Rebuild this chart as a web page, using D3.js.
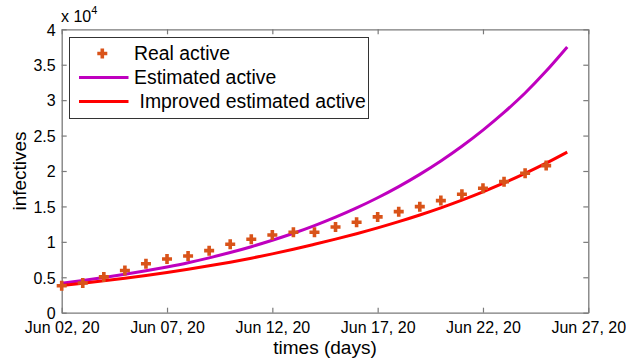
<!DOCTYPE html>
<html>
<head>
<meta charset="utf-8">
<script src="https://cdn.jsdelivr.net/npm/d3@7/dist/d3.min.js"></script>
<style>
  html, body { margin: 0; padding: 0; background: #fff; }
  svg { display: block; font-family: Arial, "Liberation Sans", sans-serif; }
</style>
</head>
<body>
<svg id="chart" width="626" height="362"></svg>
<script>
// Daily series starting 2 June 2020
const startDate = new Date(2020, 5, 2);
const endDate = new Date(2020, 5, 27);

// Reported active cases (one value per day, Jun 02 .. Jun 25)
const realActive = [3800, 4200, 5050, 5950, 6900, 7580, 8000, 8760, 9660, 10370,
  10970, 11360, 11360, 12100, 12770, 13520, 14260, 14970, 15820, 16720,
  17570, 18500, 19690, 20760];

// Model estimate (one value per day, Jun 02 .. Jun 26)
const estimatedActive = [4150, 4534, 4954, 5413, 5914, 6462, 7060, 7744, 8494, 9317,
  10220, 11210, 12296, 13488, 14795, 16229, 17801, 19526, 21418, 23494,
  25771, 28268, 31007, 34100, 37500];

// Improved model estimate (one value per day, Jun 02 .. Jun 26)
const improvedActive = [3850, 4160, 4496, 4858, 5250, 5673, 6130, 6612, 7133, 7694,
  8300, 8953, 9658, 10387, 11150, 11970, 12850, 13790, 14800, 15890,
  17060, 18310, 19660, 21100, 22660];

const yTicks = [0, 5000, 10000, 15000, 20000, 25000, 30000, 35000, 40000];
const legendLabels = ["Real active", "Estimated active", "Improved estimated active"];

const colors = { real: "#D95319", est: "#BF00BF", imp: "#FF0000", axis: "#7a7a7a" };

const svg = d3.select("#chart");
const L = 61.7, R = 588.3, T = 29.3, B = 312.7;

const x = d3.scaleTime().domain([startDate, endDate]).range([L, R]);
const y = d3.scaleLinear().domain([0, 40000]).range([B, T]);
const day = i => d3.timeDay.offset(startDate, i);

const xTickVals = d3.timeDay.range(startDate, d3.timeDay.offset(endDate, 1), 5);
const fmtDate = d3.timeFormat("%b %d, %y");
const fmtY = v => d3.format("~g")(v / 1e4);

// Axes: bottom/left with labels, top/right ticks only, ticks pointing inward
const axisG = svg.append("g");
const axBottom = axisG.append("g").attr("transform", `translate(0,${B})`)
  .call(d3.axisBottom(x).tickValues(xTickVals).tickFormat(fmtDate).tickSizeInner(-5).tickSizeOuter(0));
axisG.append("g").attr("transform", `translate(0,${T})`)
  .call(d3.axisTop(x).tickValues(xTickVals).tickFormat("").tickSizeInner(-5).tickSizeOuter(0));
const axLeft = axisG.append("g").attr("transform", `translate(${L},0)`)
  .call(d3.axisLeft(y).tickValues(yTicks).tickFormat(fmtY).tickSizeInner(-5).tickSizeOuter(0));
axisG.append("g").attr("transform", `translate(${R},0)`)
  .call(d3.axisRight(y).tickValues(yTicks).tickFormat("").tickSizeInner(-5).tickSizeOuter(0));

axisG.selectAll(".domain").attr("stroke", colors.axis).attr("stroke-width", 1.3);
axisG.selectAll(".tick line").attr("stroke", colors.axis).attr("stroke-width", 1.2);
axisG.selectAll(".tick text").attr("fill", "#000").attr("font-size", 16)
  .attr("font-family", "Arial, 'Liberation Sans', sans-serif");
axBottom.selectAll(".tick text").attr("y", 9).attr("dy", "0.71em");
axLeft.selectAll(".tick text").attr("x", -6).attr("dy", "0.36em");

// Lines
const line = d3.line().x((d, i) => x(day(i))).y(d => y(d)).curve(d3.curveMonotoneX);
svg.append("path").datum(estimatedActive).attr("d", line)
  .attr("fill", "none").attr("stroke", colors.est).attr("stroke-width", 3);
svg.append("path").datum(improvedActive).attr("d", line)
  .attr("fill", "none").attr("stroke", colors.imp).attr("stroke-width", 3);

// Plus markers for reported data
const plus = (cx, cy, s) => `M${cx - s},${cy}H${cx + s}M${cx},${cy - s}V${cy + s}`;
svg.append("g").selectAll("path").data(realActive).join("path")
  .attr("d", (d, i) => plus(x(day(i)), y(d), 5))
  .attr("stroke", colors.real).attr("stroke-width", 3.6).attr("fill", "none");

// Axis titles
svg.append("text").attr("x", (L + R) / 2).attr("y", 354).attr("text-anchor", "middle")
  .attr("font-size", 19).text("times (days)");
svg.append("text").attr("transform", `translate(26,${(T + B) / 2}) rotate(-90)`)
  .attr("text-anchor", "middle").attr("font-size", 19).text("infectives");

// Exponent marker on the y axis
const expo = svg.append("text").attr("x", 61).attr("y", 22).attr("font-size", 16);
expo.append("tspan").text("x 10");
expo.append("tspan").attr("font-size", 11).attr("dy", -8).text("4");

// Legend
const lg = svg.append("g");
lg.append("rect").attr("x", 69.5).attr("y", 37.5).attr("width", 299).attr("height", 81)
  .attr("fill", "#fff").attr("stroke", "#333").attr("stroke-width", 1);
const rowY = [53.5, 77.5, 101.5];
lg.append("path").attr("d", plus(102.3, rowY[0], 5))
  .attr("stroke", colors.real).attr("stroke-width", 3.6);
lg.append("line").attr("x1", 79).attr("x2", 128.5).attr("y1", rowY[1]).attr("y2", rowY[1])
  .attr("stroke", colors.est).attr("stroke-width", 3);
lg.append("line").attr("x1", 79).attr("x2", 128.5).attr("y1", rowY[2]).attr("y2", rowY[2])
  .attr("stroke", colors.imp).attr("stroke-width", 3);
const textX = [134, 134, 139.5];
legendLabels.forEach((t, i) => {
  lg.append("text").attr("x", textX[i]).attr("y", rowY[i]).attr("dy", "0.35em")
    .attr("font-size", 19.4).text(t);
});
</script>
</body>
</html>
